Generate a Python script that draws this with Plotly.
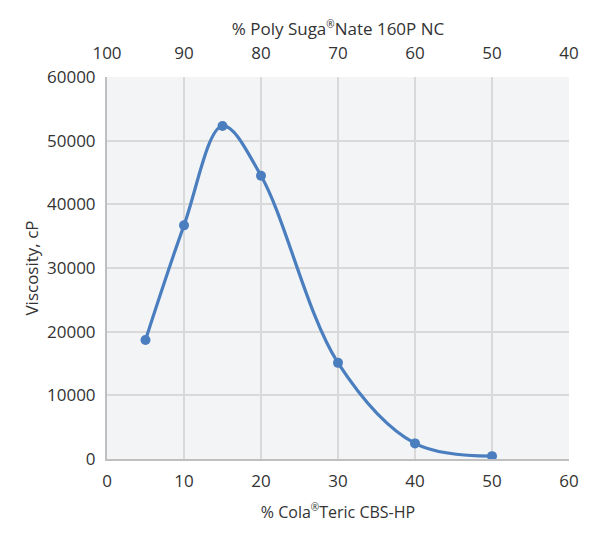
import plotly.graph_objects as go

# % Cola®Teric CBS-HP (bottom axis) and viscosity in cP
cola_pct = [5, 10, 15, 20, 30, 40, 50]
viscosity = [18700, 36700, 52300, 44500, 15100, 2450, 450]

# top axis: % Poly Suga®Nate 160P NC (100 - cola)
poly_pct = [100 - c for c in cola_pct]
poly_ticks = [100, 90, 80, 70, 60, 50, 40]

line_col = '#4a7ebf'
text_col = '#333333'
font_fam = 'Open Sans'
clear = 'rgba(0,0,0,0)'
reg = '<sup><span style="font-size:10px">®</span></sup>'

fig = go.Figure()
fig.add_trace(go.Scatter(x=cola_pct, y=viscosity, mode='lines+markers',
                         line=dict(color=line_col, width=3.2, shape='spline', smoothing=1.0),
                         marker=dict(color=line_col, size=10),
                         showlegend=False, hoverinfo='x+y'))
# invisible trace so the top axis is drawn
fig.add_trace(go.Scatter(x=poly_pct, y=viscosity, xaxis='x2', mode='markers',
                         marker=dict(opacity=0), showlegend=False, hoverinfo='skip'))

# page body has an 8px margin, so the plot box is shifted by that much
fig.update_layout(
    width=589, height=533,
    margin=dict(l=99, r=28, t=69, b=82),
    paper_bgcolor='white',
    plot_bgcolor='#f3f4f6',
    font=dict(family=font_fam, size=17, color=text_col),
    xaxis=dict(range=[0, 60], dtick=10, tick0=0, automargin=False,
               showgrid=True, gridcolor='#d9d9d9', gridwidth=1.5,
               zeroline=False, showline=True, linecolor='#bfbfbf', linewidth=2,
               ticks='outside', ticklen=6, tickcolor=clear,
               tickfont=dict(size=17, color=text_col),
               title=dict(text='% Cola' + reg + 'Teric CBS-HP', font=dict(size=16, color=text_col),
                          standoff=15)),
    xaxis2=dict(range=[100, 40], tickvals=poly_ticks, overlaying='x', side='top',
                automargin=False,
                showgrid=False, zeroline=False, showline=False,
                ticks='outside', ticklen=10, tickcolor=clear,
                tickfont=dict(size=17, color=text_col),
                title=dict(text='% Poly Suga' + reg + 'Nate 160P NC', font=dict(size=17, color=text_col),
                           standoff=1)),
    yaxis=dict(range=[0, 60000], dtick=10000, tick0=0, tickformat='d', automargin=False,
               showgrid=True, gridcolor='#d9d9d9', gridwidth=1.5,
               zeroline=False, showline=True, linecolor='#bfbfbf', linewidth=2,
               ticks='outside', ticklen=6, tickcolor=clear,
               tickfont=dict(size=17, color=text_col),
               title=dict(text='Viscosity, cP', font=dict(size=17, color=text_col),
                          standoff=4)),
)

fig.write_html("out.html")
